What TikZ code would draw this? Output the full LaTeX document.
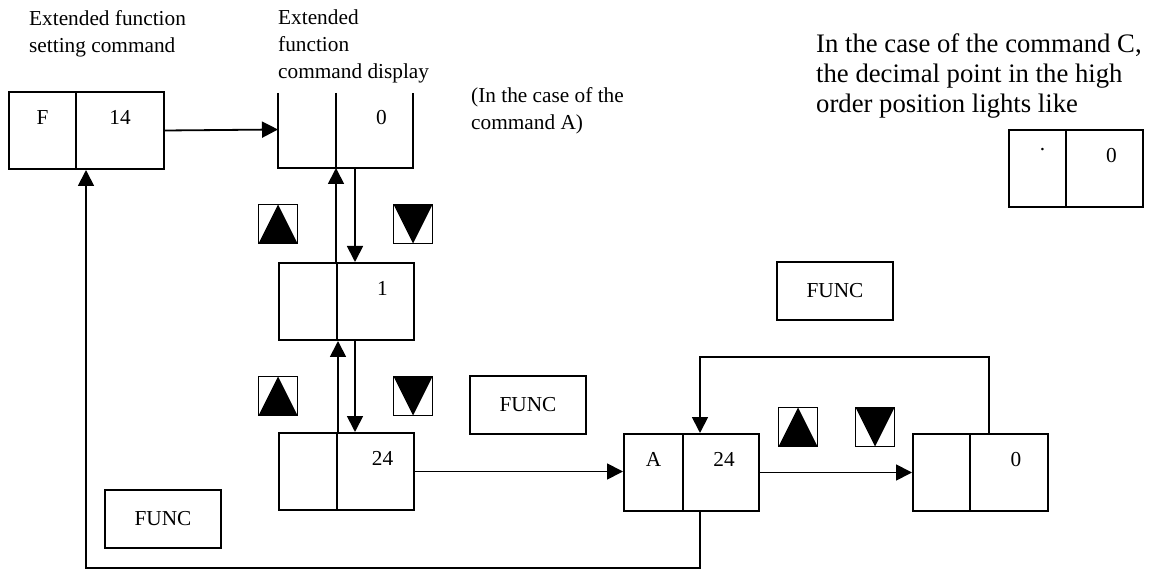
\documentclass[tikz,border=0pt]{standalone}
\usepackage{fontspec}
\setmainfont{Liberation Serif}
\usetikzlibrary{arrows.meta, positioning}

\tikzset{
  cell/.style={draw, line width=2pt, minimum height=77pt, inner sep=0pt, anchor=north west},
  opencell/.style={minimum height=77pt, inner sep=0pt, outer sep=0pt, anchor=north west},
  lbl/.style={anchor=north, yshift=-16pt},
  val/.style={label={[lbl, xshift=7pt]north:#1}},
  cval/.style={label={[lbl]north:#1}},
  func/.style={draw, line width=2pt, minimum width=116pt, minimum height=58pt, inner sep=0pt},
  note/.style={anchor=north west, align=left, inner sep=0pt},
  arr/.style={line width=1.8pt, -{Triangle[length=16pt,width=16pt]}},
  upkey/.style={draw, line width=1.6pt, minimum size=39pt, inner sep=0pt,
    path picture={\fill (path picture bounding box.south west) -- (path picture bounding box.south east)
      -- (path picture bounding box.north) -- cycle;}},
  downkey/.style={draw, line width=1.6pt, minimum size=39pt, inner sep=0pt,
    path picture={\fill (path picture bounding box.north west) -- (path picture bounding box.north east)
      -- (path picture bounding box.south) -- cycle;}}
}

\begin{document}
\begin{tikzpicture}[x=1pt, y=-1pt, font=\fontsize{21.3}{27}\selectfont]
  \useasboundingbox (0,0) rectangle (1149,569);

  % headings
  \node[note] (hset) at (29,10) {Extended function\\setting command};
  \node[note] (hdisp) at (278,10) {Extended\\function\\command display};
  \node[note] (hcase) at (471,87) {(In the case of the\\command A)};
  \node[note, font=\fontsize{26.7}{30}\selectfont] (hcmdc) at (816,34)
    {In the case of the command C,\\the decimal point in the high\\order position lights like};

  % F 14
  \node[cell, minimum width=67pt, cval=F] (Fl) at (8,91) {};
  \node[cell, minimum width=88pt, cval=14] (Fr) at (75,91) {};

  % display, open at the top
  \node[opencell, minimum width=58pt] (d0l) at (278,91) {};
  \node[opencell, minimum width=77pt, val=0] (d0r) at (336,91) {};
  \draw[line width=2pt] ([yshift=-2pt]d0l.north west) |- (d0r.south east) -- ([yshift=-2pt]d0r.north east);
  \draw[line width=2pt] ([yshift=-2pt]d0l.north east) -- (d0l.south east);

  % 1 and 24
  \node[cell, minimum width=58pt] (c1l) at (278,262) {};
  \node[cell, minimum width=77pt, val=1] (c1r) at (336,262) {};
  \node[cell, minimum width=58pt] (c24l) at (278,432) {};
  \node[cell, minimum width=77pt, val=24] (c24r) at (336,432) {};

  % A 24 and 0
  \node[cell, minimum width=59pt, cval=A] (Al) at (623,433) {};
  \node[cell, minimum width=76pt, label={[lbl, xshift=3pt]north:24}] (Ar) at (682,433) {};
  \node[cell, minimum width=57pt] (Rl) at (912,433) {};
  \node[cell, minimum width=78pt, val=0] (Rr) at (969,433) {};

  % command C display
  \node[cell, minimum width=57pt, label={[lbl, xshift=5pt]north:.}] (Cl) at (1008,129) {};
  \node[cell, minimum width=77pt, val=0] (Cr) at (1065,129) {};

  % keys
  \node[upkey] (up1) at (278,224) {};
  \node[downkey] (dn1) at (413,224) {};
  \node[upkey] (up2) at (278,396) {};
  \node[downkey] (dn2) at (413,396) {};
  \node[upkey] (up3) at (798,427) {};
  \node[downkey] (dn3) at (875,427) {};

  \node[func] (fmid) at (528,405) {FUNC};
  \node[func] (fright) at (835,291) {FUNC};
  \node[func] (fleft) at (163,519) {FUNC};

  % connectors
  \draw[arr] (Fr.east) -- (d0l.west);
  \draw[arr] (d0l.south east |- c1l.north) -- (d0l.south east);
  \draw[arr] ([xshift=19pt]d0r.south west) -- ([xshift=19pt]d0r.south west |- c1r.north);
  \draw[arr] (c24l.north east) -- (c1l.south east);
  \draw[arr] ([xshift=19pt]c1r.south west) -- ([xshift=19pt]c1r.south west |- c24r.north);
  \draw[arr] (c24r.east) -- (c24r.east -| Al.west);
  \draw[arr] (Ar.east) -- (Rl.west);
  \draw[arr] ([xshift=20pt]Rr.north west) -- ++(0,-76) -| ([xshift=18pt]Ar.north west);
  \draw[arr] ([xshift=18pt]Ar.south west) -- ++(0,56) -| ([xshift=11pt]Fr.south west);
\end{tikzpicture}
\end{document}
